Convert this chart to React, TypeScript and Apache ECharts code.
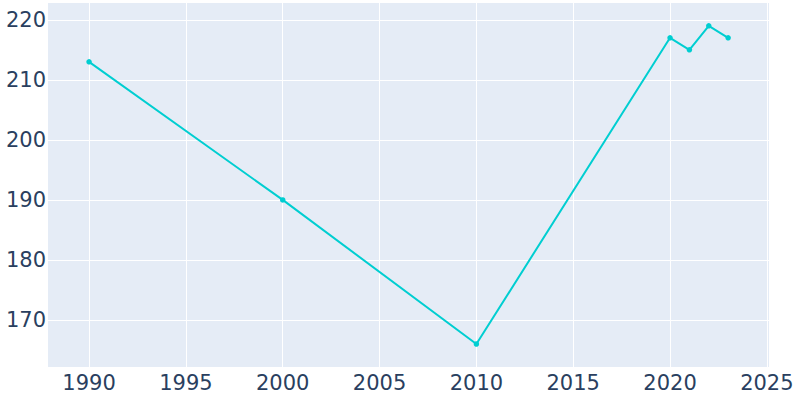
import React, { useEffect, useRef } from "react";
import * as echarts from "echarts";

const years = [1990, 2000, 2010, 2020, 2021, 2022, 2023];
const population = [213, 190, 166, 217, 215, 219, 217];
const xTicks = [1990, 1995, 2000, 2005, 2010, 2015, 2020, 2025];
const yTicks = [170, 180, 190, 200, 210, 220];

export default function App() {
  const ref = useRef<HTMLDivElement>(null);
  useEffect(() => {
    if (!ref.current) return;
    const chart = echarts.init(ref.current, undefined, { renderer: "svg" });
    const labelStyle = {
      color: "#2a3f5f",
      fontSize: 21,
      fontFamily: "DejaVu Sans",
    };
    chart.setOption({
      animation: false,
      grid: {
        left: 48,
        top: 3,
        width: 721,
        height: 364,
        show: true,
        backgroundColor: "#E5ECF6",
        borderWidth: 0,
      },
      xAxis: {
        type: "value",
        min: 1987.88,
        max: 2025.11,
        axisLine: { show: false },
        axisTick: { show: false, customValues: xTicks },
        axisLabel: {
          ...labelStyle,
          margin: 5,
          customValues: xTicks,
          formatter: (v: number) => String(v),
        },
        splitLine: { show: true, lineStyle: { color: "#ffffff", width: 1 } },
      },
      yAxis: {
        type: "value",
        min: 162.17,
        max: 222.8,
        axisLine: { show: false },
        axisTick: { show: false, customValues: yTicks },
        axisLabel: { ...labelStyle, margin: 2, customValues: yTicks },
        splitLine: { show: true, lineStyle: { color: "#ffffff", width: 1 } },
      },
      series: [
        {
          type: "line",
          data: years.map((y, i) => [y, population[i]]),
          lineStyle: { color: "#00CED1", width: 2 },
          itemStyle: { color: "#00CED1" },
          symbol: "circle",
          symbolSize: 5.5,
          showSymbol: true,
        },
      ],
    });
    return () => chart.dispose();
  }, []);
  return (
    <div
      ref={ref}
      style={{ position: "absolute", left: 0, top: 0, width: 800, height: 400 }}
    />
  );
}
